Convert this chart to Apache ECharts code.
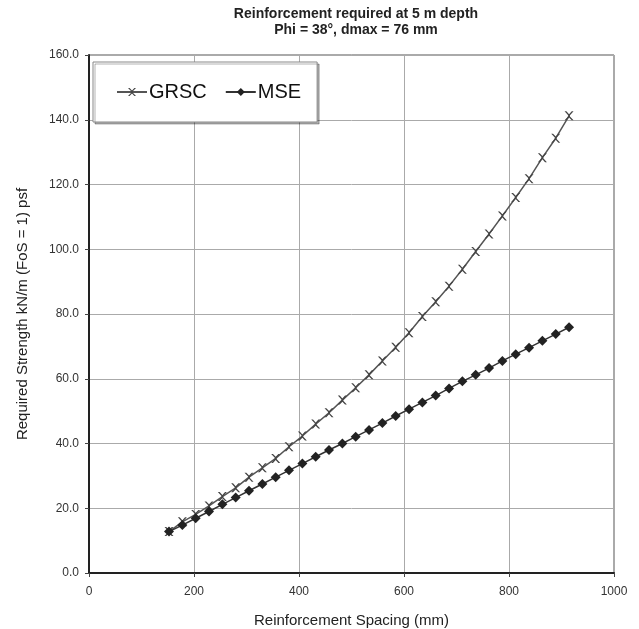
<!DOCTYPE html>
<html><head><meta charset="utf-8">
<script src="https://cdn.jsdelivr.net/npm/echarts@6/dist/echarts.min.js"></script>
<style>html,body{margin:0;padding:0;background:#fff}#c{width:639px;height:629px}</style>
</head><body><div id="c"></div>
<script>
const spacing = [152.4,177.8,203.2,228.6,254.0,279.4,304.8,330.2,355.6,381.0,406.4,431.8,457.2,482.6,508.0,533.4,558.8,584.2,609.6,635.0,660.4,685.8,711.2,736.6,762.0,787.4,812.8,838.2,863.6,889.0,914.4];
const grsc = [12.8,15.8,18.1,20.7,23.6,26.3,29.6,32.5,35.4,39.0,42.3,46.0,49.5,53.4,57.2,61.2,65.5,69.7,74.2,79.2,83.8,88.6,93.8,99.3,104.7,110.3,116.0,121.8,128.3,134.3,141.2];
const mse = [12.8,14.8,16.9,19.0,21.2,23.3,25.4,27.5,29.6,31.7,33.8,35.9,38.0,40.0,42.1,44.2,46.3,48.5,50.6,52.7,54.8,57.0,59.2,61.2,63.3,65.5,67.6,69.6,71.7,73.8,75.9];
const xTicks = [0,200,400,600,800,1000];
const yTicks = [0,20,40,60,80,100,120,140,160];

const font = 'Liberation Sans, Arial, sans-serif';
const xPath = 'path://M0,0 L2,0 L5,3.2 L8,0 L10,0 L6,4.2 L6,5.8 L10,10 L8,10 L5,6.8 L2,10 L0,10 L4,5.8 L4,4.2 Z';
const chart = echarts.init(document.getElementById('c'), null, {renderer:'canvas'});
chart.setOption({
  animation:false,
  backgroundColor:'#fff',
  title:{text:'Reinforcement required at 5 m depth\nPhi = 38°, dmax = 76 mm', left:351, textAlign:'center', top:1,
    textStyle:{fontFamily:font,fontSize:14,fontWeight:'bold',color:'#222',lineHeight:16}},
  legend:{left:93, top:62, padding:[20,16,20,23], itemGap:18, itemWidth:30, itemHeight:10,
    backgroundColor:'#fff', borderColor:'#888', borderWidth:1,
    shadowColor:'rgba(0,0,0,0.3)', shadowOffsetX:2, shadowOffsetY:2, shadowBlur:0,
    textStyle:{fontFamily:font,fontSize:20,color:'#111',padding:[0,0,0,-3]},
    data:['GRSC','MSE']},
  grid:{left:89, right:25, top:55, bottom:56, show:true, borderColor:'#555', borderWidth:1,
    containLabel:false, outerBoundsMode:'none'},
  xAxis:{type:'value', min:0, max:1000, interval:200,
    name:'Reinforcement Spacing (mm)', nameLocation:'middle', nameGap:40,
    nameTextStyle:{fontFamily:font,fontSize:15,color:'#222'},
    axisLine:{show:true,lineStyle:{color:'#222',width:2}}, axisTick:{show:true,length:4,lineStyle:{color:'#444'}},
    axisLabel:{fontFamily:font,fontSize:12,color:'#333',margin:13, formatter:v=>String(v)},
    splitLine:{show:true,lineStyle:{color:'#aaa',width:1}}},
  yAxis:{type:'value', min:0, max:160, interval:20,
    name:'Required Strength kN/m (FoS = 1) psf', nameLocation:'middle', nameGap:59,
    nameTextStyle:{fontFamily:font,fontSize:15,color:'#222'},
    axisLine:{show:true,lineStyle:{color:'#222',width:2}}, axisTick:{show:true,length:4,lineStyle:{color:'#444'}},
    axisLabel:{fontFamily:font,fontSize:12,color:'#333',margin:10, formatter:v=>v.toFixed(1)},
    splitLine:{show:true,lineStyle:{color:'#aaa',width:1}}},
  series:[
    {name:'GRSC', type:'line', data:spacing.map((x,i)=>[x,grsc[i]]), symbol:xPath, symbolSize:9,
      lineStyle:{color:'#555',width:1.5}, itemStyle:{color:'#444'}},
    {name:'MSE', type:'line', data:spacing.map((x,i)=>[x,mse[i]]), symbol:'diamond', symbolSize:10,
      lineStyle:{color:'#333',width:1.5}, itemStyle:{color:'#222'}}
  ]
});
</script></body></html>
